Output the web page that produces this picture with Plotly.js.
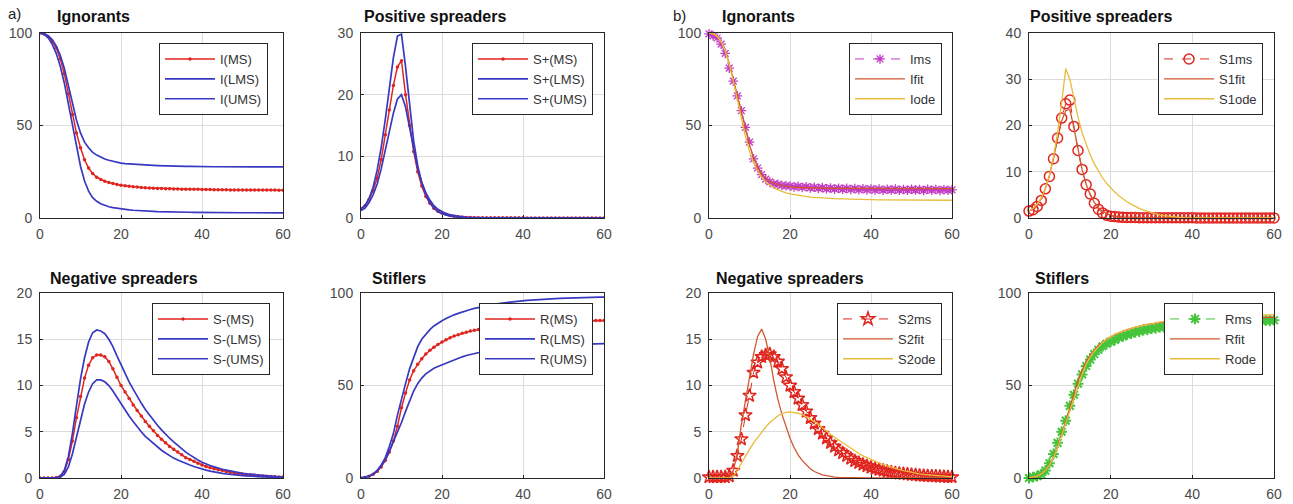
<!DOCTYPE html>
<html>
<head>
<meta charset="utf-8">
<script src="https://cdn.plot.ly/plotly-3.0.1.min.js"></script>
<style>html,body{margin:0;padding:0;background:#fff;}#chart{width:1293px;height:504px;}</style>
</head>
<body>
<div id="chart"></div>
<script>
// ---------------- data ----------------
const T = [0,1,2,3,4,5,6,7,8,9,10,11,12,13,14,15,16,17,18,19,20,21,22,23,24,25,26,27,28,29,30,31,32,33,34,35,36,37,38,39,40,41,42,43,44,45,46,47,48,49,50,51,52,53,54,55,56,57,58,59,60];

// panel a) Ignorants
const I_MS  = [100,99.5,98,95.5,92,86,78,67,56,46,38, 31.5,27,24,22,20.8,19.9,19.2,18.6,18.1,17.7, 17.4,17.1,16.9,16.7,16.5,16.3,16.2,16.1,16.0,15.9, 15.8,15.8,15.7,15.7,15.6,15.6,15.5,15.5,15.5,15.4, 15.4,15.4,15.3,15.3,15.3,15.3,15.2,15.2,15.2,15.2, 15.2,15.1,15.1,15.1,15.1,15.1,15.1,15.1,15.0,15.0];
const I_LMS = [100,99.3,97.5,94,89,82,73,62,50,38,28, 20,14.5,11,9,7.7,6.8,6.1,5.6,5.2,4.9, 4.6,4.4,4.2,4.0,3.9,3.8,3.7,3.6,3.5,3.4, 3.35,3.3,3.25,3.2,3.15,3.1,3.1,3.05,3.0,3.0, 3.0,2.95,2.95,2.9,2.9,2.9,2.9,2.85,2.85,2.85, 2.85,2.8,2.8,2.8,2.8,2.8,2.8,2.8,2.8,2.8];
const I_UMS = [100,99.7,98.5,96.5,93,88,81,72,62,53,46, 41,38,35.5,34,32.8,31.9,31.2,30.6,30.1,29.7, 29.4,29.2,29.0,28.8,28.7,28.6,28.5,28.4,28.3,28.2, 28.1,28.1,28.0,28.0,27.9,27.9,27.9,27.8,27.8,27.8, 27.8,27.7,27.7,27.7,27.7,27.7,27.7,27.6,27.6,27.6, 27.6,27.6,27.6,27.6,27.6,27.6,27.6,27.6,27.6,27.6];

// panel a) Positive spreaders
const SP_MS  = [1.5,2,3,4.5,6.5,9.5,13.5,17.5,21.5,24.5,25.5, 20,15,10.8,7.5,5.2,3.5,2.4,1.6,1.1,0.8, 0.6,0.4,0.3,0.2,0.15,0.1,0.08,0.06,0.05,0.04, 0.03,0.03,0.03,0.03,0.03,0.03,0.03,0.03,0.03,0.03, 0.02,0.02,0.02,0.02,0.02,0.02,0.02,0.02,0.02,0.02, 0.02,0.02,0.02,0.02,0.02,0.02,0.02,0.02,0.02,0.02];
const SP_LMS = [1.2,1.6,2.5,3.8,5.5,8,11,14,17,19.3,20, 18,14.5,11,8,5.8,4.1,2.9,2.0,1.4,1.0, 0.7,0.5,0.35,0.25,0.17,0.12,0.08,0.05,0.03,0.02, 0.01,0.01,0.01,0.01,0.01,0,0,0,0,0, 0,0,0,0,0,0,0,0,0,0, 0,0,0,0,0,0,0,0,0,0];
const SP_UMS = [1.5,2,3.2,5,7.8,11.5,16,21,26,29.5,29.8, 24.5,18.5,12.5,8.5,5.7,3.8,2.5,1.6,1.0,0.7, 0.45,0.3,0.2,0.12,0.08,0.05,0.03,0.02,0.01,0, 0,0,0,0,0,0,0,0,0,0, 0,0,0,0,0,0,0,0,0,0, 0,0,0,0,0,0,0,0,0,0];

// panel a) Negative spreaders
const SN_MS  = [0,0,0,0,0.05,0.2,0.7,2,4,6.5,8.8, 10.8,12.2,13,13.3,13.3,13.1,12.6,11.8,10.9,10.0, 9.3,8.6,7.9,7.3,6.7,6.1,5.6,5.1,4.6,4.2, 3.8,3.4,3.1,2.8,2.5,2.2,2.0,1.8,1.6,1.4, 1.25,1.1,1.0,0.9,0.8,0.7,0.62,0.55,0.48,0.42, 0.37,0.33,0.29,0.25,0.22,0.19,0.16,0.14,0.12,0.1];
const SN_LMS = [0,0,0,0,0,0.1,0.4,1.2,2.6,4.4,6.3, 8,9.3,10.2,10.6,10.6,10.4,10,9.4,8.7,8.0, 7.3,6.7,6.1,5.5,5.0,4.5,4.1,3.7,3.3,3.0, 2.7,2.4,2.15,1.95,1.75,1.55,1.4,1.25,1.1,0.95, 0.85,0.75,0.65,0.57,0.5,0.44,0.38,0.33,0.29,0.25, 0.22,0.19,0.16,0.14,0.12,0.1,0.08,0.07,0.06,0.05];
const SN_UMS = [0,0,0,0,0,0.2,0.8,2.3,4.8,7.8,10.7, 13,14.7,15.7,16,15.9,15.6,15,14.2,13.2,12.2, 11.3,10.4,9.6,8.8,8.1,7.4,6.8,6.2,5.7,5.2, 4.7,4.3,3.9,3.5,3.1,2.8,2.5,2.2,1.95,1.7, 1.5,1.35,1.2,1.05,0.95,0.85,0.75,0.65,0.58,0.5, 0.45,0.4,0.35,0.3,0.26,0.22,0.19,0.16,0.13,0.1];

// panel a) Stiflers
const R_MS  = [0,0.3,1,2,3.5,6,9.5,14,20,28,38, 46,53,58,61.5,64.5,67,69,70.7,72.2,73.5, 74.7,75.8,76.7,77.5,78.2,78.8,79.4,79.9,80.3,80.7, 81.1,81.5,81.8,82.1,82.4,82.7,82.9,83.1,83.3,83.5, 83.7,83.8,84.0,84.1,84.2,84.3,84.4,84.5,84.6,84.7, 84.8,84.8,84.9,84.9,85.0,85.0,85.0,85.1,85.1,85.1];
const R_LMS = [0,0.3,1,2.2,4,6.5,10,14.5,19.5,25,30, 36,42,47,51,54,56.3,58,59.3,60.3,61.2, 62.2,63.1,64,64.8,65.5,66.2,66.8,67.4,67.9,68.4, 68.8,69.2,69.5,69.8,70.1,70.3,70.5,70.7,70.9,71.1, 71.2,71.4,71.5,71.6,71.7,71.8,71.9,72.0,72.0,72.1, 72.2,72.2,72.3,72.3,72.4,72.4,72.5,72.5,72.5,72.6];
const R_UMS = [0,0.3,1,2,4,7,11,17,24,34,43, 51,59,65.5,71,75,77.8,80.2,82.2,83.7,85, 86.2,87.3,88.2,89,89.8,90.5,91.1,91.7,92.2,92.7, 93.1,93.5,93.9,94.3,94.6,94.9,95.2,95.4,95.6,95.8, 96.0,96.2,96.4,96.5,96.7,96.8,96.9,97.0,97.1,97.2, 97.3,97.4,97.5,97.5,97.6,97.6,97.7,97.7,97.8,97.8];

// panel b) Ignorants
const Ims  = [99.5,98.5,97.3,94,89,81,74,66,58,49,41, 32,27,23.5,21,19.5,18.4,18.2,17.6,17.4,17.3, 16.8,17.1,16.5,16.9,16.3,16.6,16.0,16.4,15.8,16.2, 15.6,16.1,15.5,16.0,15.4,15.9,15.3,15.8,15.2,15.7, 15.1,15.6,15.0,15.5,15.1,15.6,15.0,15.4,15.0,15.5, 15.1,15.4,14.9,15.5,15.0,15.4,14.9,15.3,15.0,15.2];
const Ifit = [100,99.6,98.3,95.5,90.5,83.5,75,66,56.5,47.5,39.5, 32.5,27.5,24,21.5,19.8,18.7,18,17.5,17.1,16.8, 16.6,16.5,16.4,16.3,16.2,16.2,16.1,16.1,16.0,16.0, 16.0,16.0,16.0,15.9,15.9,15.9,15.9,15.9,15.9,15.9, 15.9,15.9,15.9,15.9,15.9,15.9,15.9,15.9,15.9,15.9, 15.9,15.9,15.9,15.9,15.9,15.9,15.9,15.9,15.9,15.9];
const Iode = [100,99.6,98.2,95.3,90.3,83,74,64,53.5,44,36, 30,25.5,22,19.5,17.7,16.3,15.2,14.3,13.6,13.0, 12.6,12.2,11.9,11.6,11.3,11.1,10.9,10.8,10.6,10.5, 10.4,10.3,10.3,10.2,10.1,10.1,10.0,10.0,9.9,9.9, 9.9,9.8,9.8,9.8,9.8,9.7,9.7,9.7,9.7,9.7, 9.6,9.6,9.6,9.6,9.6,9.6,9.6,9.6,9.6,9.6];

// panel b) Positive spreaders
const S1ms  = [1.5,1.8,2.5,3.8,6.3,9,12.8,17.3,21.6,24.7,25.5, 19.8,14.6,10.5,7.2,5.2,3.2,1.9,1.1,0.6,0.4, 0.3,0.2,0.15,0.1,0.1,0.1,0.05,0.05,0.05,0.05, 0.05,0.05,0.05,0.05,0.05,0.05,0.05,0.05,0.05,0.05, 0.02,0.02,0.02,0.02,0.02,0.02,0.02,0.02,0.02,0.02, 0.02,0.02,0.02,0.02,0.02,0.02,0.02,0.02,0.02,0.02];
const S1fit = [1.5,2,2.8,4.2,6.3,9.2,13,17.3,21,23.2,23.5, 19.5,14.8,10.5,7.3,5,3.4,2.2,1.4,0.9,0.55, 0.35,0.2,0.13,0.08,0.05,0.03,0.02,0.01,0,0, 0,0,0,0,0,0,0,0,0,0, 0,0,0,0,0,0,0,0,0,0, 0,0,0,0,0,0,0,0,0,0];
const S1ode = [1.5,2.1,3,4.3,6.3,9.2,13.2,18.5,25,32.3,30, 25.8,21.8,18.5,15.8,13.6,11.7,10.1,8.7,7.5,6.5, 5.6,4.8,4.1,3.5,3.0,2.5,2.1,1.7,1.4,1.1, 0.85,0.65,0.5,0.38,0.28,0.2,0.15,0.1,0.07,0.05, 0.03,0.02,0.01,0,0,0,0,0,0,0, 0,0,0,0,0,0,0,0,0,0];

// panel b) Negative spreaders
const S2ms  = [0.1,0.1,0.1,0.1,0.1,0.2,0.8,2.4,4.2,6.8,8.9, 11.4,12.5,13.1,13.3,13.4,13.1,12.6,11.8,10.9,10.0, 9.3,8.6,7.9,7.2,6.5,5.9,5.3,4.8,4.3,3.8, 3.4,3.0,2.7,2.4,2.1,1.85,1.65,1.45,1.3,1.15, 1.0,0.9,0.8,0.7,0.62,0.55,0.5,0.45,0.4,0.35, 0.32,0.28,0.25,0.22,0.2,0.18,0.16,0.14,0.12,0.1];
const S2fit = [0,0,0,0,0,0,0.8,2.7,5.8,8.3,10.8, 13.4,15.3,16.1,15,13,10.5,8.5,6.9,5.5,4.3, 3.3,2.5,1.9,1.4,1.0,0.7,0.5,0.35,0.25,0.15, 0.1,0.07,0.05,0.03,0.02,0.01,0,0,0,0, 0,0,0,0,0,0,0,0,0,0, 0,0,0,0,0,0,0,0,0,0];
const S2ode = [0,0,0,0,0,0,0.2,0.8,1.6,2.4,3.1, 3.8,4.4,5.0,5.5,6.0,6.4,6.7,6.95,7.1,7.15, 7.1,7.0,6.85,6.6,6.4,6.1,5.8,5.4,5.05,4.7, 4.4,4.1,3.8,3.5,3.2,2.9,2.65,2.4,2.2,2.0, 1.8,1.6,1.45,1.3,1.15,1.0,0.9,0.8,0.7,0.6, 0.52,0.45,0.4,0.35,0.3,0.26,0.22,0.2,0.17,0.15];

// panel b) Stiflers
const Rms  = [0,0.5,1,2,4,8,13,19,25,31,39, 45,51,56,60.5,64,67,69.3,71.2,72.6,73.7, 74.6,75.9,76.5,77.6,78.0,78.9,79.2,80.0,80.1,80.8, 80.9,81.6,81.6,82.3,82.2,82.9,82.7,83.3,83.1,83.7, 83.5,84.0,83.8,84.3,84.0,84.5,84.2,84.7,84.4,84.9, 84.6,85.0,84.7,85.1,84.8,85.2,84.9,85.2,85.0,85.3];
const Rfit = [0,0.3,1,2.2,4.2,7.2,11.5,17,23.5,30.5,38, 45.5,52.5,58.5,63,66.5,69.3,71.6,73.5,75,76.2, 77.4,78.5,79.4,80.2,80.9,81.5,82.1,82.6,83.0,83.4, 83.7,84.0,84.2,84.4,84.6,84.8,85.0,85.1,85.3,85.4, 85.5,85.6,85.7,85.8,85.9,86.0,86.1,86.2,86.3,86.4, 86.5,86.5,86.6,86.6,86.7,86.7,86.8,86.8,86.9,86.9];
const Rode = [0,0.3,1,2.2,4.2,7,11,16.5,23,29.5,36, 43,50,56,61.5,65.5,68.5,71,73.3,75,76.5, 77.6,78.6,79.4,80.2,80.9,81.5,82.1,82.6,83.1,83.5, 83.9,84.2,84.5,84.8,85.0,85.3,85.5,85.7,85.9,86.1, 86.3,86.4,86.6,86.7,86.9,87.0,87.1,87.2,87.3,87.4, 87.5,87.6,87.7,87.8,87.9,88.0,88.0,88.1,88.2,88.3];

// labels
const panelTitles = ["Ignorants","Positive spreaders","Ignorants","Positive spreaders","Negative spreaders","Stiflers","Negative spreaders","Stiflers"];
const panelTags = ["a)","b)"];
const xTicks = [0,20,40,60];
const yTicks = [[0,50,100],[0,10,20,30],[0,50,100],[0,10,20,30,40],[0,5,10,15,20],[0,50,100],[0,5,10,15,20],[0,50,100]];
const yRanges = [[0,100],[0,30],[0,100],[0,40],[0,20],[0,100],[0,20],[0,100]];

// ---------------- layout helpers ----------------
const W = 1293, H = 504;
const colX = [[40,283],[361,604],[709,952],[1029,1274]];
const rowY = [[33,218],[293,478]];
const RED = '#e0251f', BLUE = '#3838c0', MAG = '#c23cc6', FIT = '#d0582f', ODE = '#e8bd3a', GRN = '#45c43c';
const FONT = 'Liberation Sans, Arial, Helvetica, sans-serif';

const layout = {
  width: W, height: H, margin: {l:0, r:0, t:0, b:0},
  paper_bgcolor: '#ffffff', plot_bgcolor: '#ffffff',
  font: {family: FONT, color: '#333'},
  showlegend: true, annotations: []
};

// legend boxes (right edge px, top edge px)
const legPos = [[268,43],[593,43],[942,43],[1263,43],[270,303],[593,303],[942,303],[1263,303]];

for (let i = 0; i < 8; i++) {
  const col = i % 4, row = Math.floor(i / 4);
  const xs = i === 0 ? '' : String(i + 1);
  const cx = colX[col], ry = rowY[row];
  const common = {
    showline: true, mirror: true, linecolor: '#262626', linewidth: 1,
    showgrid: true, gridcolor: '#dcdcdc', gridwidth: 1, zeroline: false,
    ticks: 'inside', ticklen: 3, tickcolor: '#262626',
    tickfont: {family: FONT, size: 14, color: '#4a4a4a'}, fixedrange: true
  };
  layout['xaxis' + xs] = Object.assign({}, common, {
    domain: [cx[0] / W, cx[1] / W], range: [0, 60], tickmode: 'array', tickvals: xTicks,
    anchor: 'y' + xs, ticklabelstandoff: 3
  });
  layout['yaxis' + xs] = Object.assign({}, common, {
    domain: [1 - ry[1] / H, 1 - ry[0] / H], range: yRanges[i], tickmode: 'array', tickvals: yTicks[i],
    anchor: 'x' + xs, ticklabelstandoff: 4
  });
  const lk = i === 0 ? 'legend' : 'legend' + (i + 1);
  layout[lk] = {
    x: legPos[i][0] / W, y: 1 - legPos[i][1] / H, xanchor: 'right', yanchor: 'top',
    xref: 'paper', yref: 'paper',
    bgcolor: '#ffffff', bordercolor: '#262626', borderwidth: 1,
    font: {family: FONT, size: 13, color: '#333'}, itemwidth: 50, tracegroupgap: 0
  };
  // title
  const titleX = [55, 362, 720, 1028, 48, 370, 714, 1033][i];
  const titleY = row === 0 ? 17 : 278;
  layout.annotations.push({
    xref: 'paper', yref: 'paper', x: titleX / W, y: 1 - titleY / H, xanchor: 'left', yanchor: 'middle',
    text: '<b>' + panelTitles[i] + '</b>', showarrow: false, font: {family: FONT, size: 16, color: '#111'}
  });
}
layout.annotations.push({xref:'paper', yref:'paper', x: 6/W, y: 1-13/H, xanchor:'left', yanchor:'middle', text: panelTags[0], showarrow:false, font:{family:FONT,size:15,color:'#222'}});
layout.annotations.push({xref:'paper', yref:'paper', x: 671/W, y: 1-15/H, xanchor:'left', yanchor:'middle', text: panelTags[1], showarrow:false, font:{family:FONT,size:15,color:'#222'}});

// ---------------- traces ----------------
const traces = [];
function add(i, y, name, style) {
  const xs = i === 0 ? '' : String(i + 1);
  traces.push(Object.assign({
    type: 'scatter', x: T, y: y, name: name,
    xaxis: 'x' + xs, yaxis: 'y' + xs,
    legend: i === 0 ? 'legend' : 'legend' + (i + 1)
  }, style));
}
const msStyle = {mode: 'lines+markers', line: {color: RED, width: 1.5}, marker: {symbol: 'circle', size: 3.5, color: RED}};
const bandStyle = {mode: 'lines', line: {color: BLUE, width: 1.7}};
const fitStyle = {mode: 'lines', line: {color: FIT, width: 1.3}};
const odeStyle = {mode: 'lines', line: {color: ODE, width: 1.3}};

add(0, I_MS, 'I(MS)', msStyle); add(0, I_LMS, 'I(LMS)', bandStyle); add(0, I_UMS, 'I(UMS)', bandStyle);
add(1, SP_MS, 'S+(MS)', msStyle); add(1, SP_LMS, 'S+(LMS)', bandStyle); add(1, SP_UMS, 'S+(UMS)', bandStyle);
add(4, SN_MS, 'S-(MS)', msStyle); add(4, SN_LMS, 'S-(LMS)', bandStyle); add(4, SN_UMS, 'S-(UMS)', bandStyle);
add(5, R_MS, 'R(MS)', msStyle); add(5, R_LMS, 'R(LMS)', bandStyle); add(5, R_UMS, 'R(UMS)', bandStyle);

add(2, Ims, 'Ims', {mode: 'lines+markers', cliponaxis: false, line: {color: MAG, width: 1, dash: 'dash'},
  marker: {symbol: 'asterisk-open', size: 8, color: MAG, line: {color: MAG, width: 1.3}}});
add(2, Ifit, 'Ifit', fitStyle); add(2, Iode, 'Iode', odeStyle);

add(3, S1ms, 'S1ms', {mode: 'lines+markers', cliponaxis: false, line: {color: RED, width: 1, dash: 'dash'},
  marker: {symbol: 'circle-open', size: 10, color: RED, line: {color: RED, width: 1.5}}});
add(3, S1fit, 'S1fit', fitStyle); add(3, S1ode, 'S1ode', odeStyle);

add(6, S2ms, 'S2ms', {mode: 'lines+markers', cliponaxis: false, line: {color: RED, width: 1, dash: 'dash'},
  marker: {symbol: 'star-open', size: 10, color: RED, line: {color: RED, width: 1.5}}});
add(6, S2fit, 'S2fit', fitStyle); add(6, S2ode, 'S2ode', odeStyle);

add(7, Rms, 'Rms', {mode: 'lines+markers', cliponaxis: false, line: {color: GRN, width: 1, dash: 'dash'},
  marker: {symbol: 'asterisk-open', size: 9, color: GRN, line: {color: GRN, width: 2}}});
add(7, Rfit, 'Rfit', fitStyle); add(7, Rode, 'Rode', odeStyle);

Plotly.newPlot('chart', traces, layout, {staticPlot: true, displayModeBar: false});
</script>
</body>
</html>
